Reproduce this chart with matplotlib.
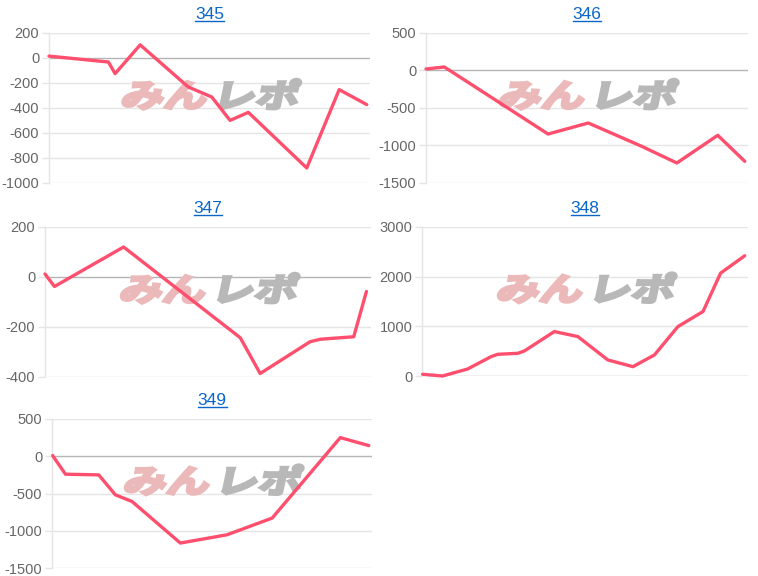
import matplotlib.pyplot as plt
from matplotlib.font_manager import FontProperties
from matplotlib.patches import PathPatch
from matplotlib.textpath import TextPath
from matplotlib.transforms import Affine2D, IdentityTransform

plt.rcParams["font.family"] = ["Liberation Sans", "DejaVu Sans"]

# x positions are in percent of the period shown, y values are the balance
x_345 = [0, 18.5, 20.6, 28.4, 43.4, 50.7, 56.4, 62.1, 80.3, 90.4, 99]
y_345 = [15, -32, -125, 105, -232, -312, -499, -435, -880, -253, -373]

x_346 = [0, 5.7, 37.9, 50.4, 67.0, 77.9, 90.6, 99]
y_346 = [20, 47, -847, -700, -1011, -1233, -864, -1211]

x_347 = [0, 2.9, 24.1, 59.9, 66.0, 81.3, 84.4, 94.7, 98.6]
y_347 = [12, -38, 120, -243, -386, -259, -249, -239, -58]

x_348 = [0.2, 6.3, 14.0, 21.2, 23.2, 29.4, 31.4, 40.6, 47.8, 57.0, 64.7, 71.3, 78.5, 86.2, 91.6, 99]
y_348 = [34, 0, 141, 390, 437, 457, 504, 895, 794, 323, 188, 424, 995, 1298, 2072, 2421]

x_349 = [0.2, 4.2, 14.6, 19.8, 25.0, 40.1, 54.7, 68.8, 90.1, 99]
y_349 = [9, -241, -250, -518, -607, -1165, -1054, -830, 250, 143]

titles = ["345", "346", "347", "348", "349"]
xs = [x_345, x_346, x_347, x_348, x_349]
ys = [y_345, y_346, y_347, y_348, y_349]
yticks = [
    [-1000, -800, -600, -400, -200, 0, 200],
    [-1500, -1000, -500, 0, 500],
    [-400, -200, 0, 200],
    [0, 1000, 2000, 3000],
    [-1500, -1000, -500, 0, 500],
]

# axes boxes in pixels: left, right, top, bottom
boxes = [
    (49, 370, 33, 183),
    (426, 748, 33, 183),
    (45, 371, 227, 377),
    (422, 748, 227, 376),
    (52, 372, 419, 568),
]

W, H = 758, 576
fig = plt.figure(figsize=(W / 100, H / 100), dpi=100)

line_color = "#ff4f6e"
grid_color = "#e5e5e5"
label_color = "#666666"
link_color = "#0b66c9"


def watermark(ax):
    fp = FontProperties(family="Noto Sans CJK JP", weight="bold")
    cx, cy = ax.transAxes.transform((0.5, 0.6))
    parts = [("みん", "#ebb9b9", -90), ("レポ", "#b8b8b8", 2)]
    for text, color, dx in parts:
        path = TextPath((0, 0), text, size=40, prop=fp)
        tr = Affine2D().scale(1.08, 0.8).skew_deg(12, 0).translate(cx + dx, cy - 14)
        patch = PathPatch(path, transform=tr + IdentityTransform(), facecolor=color,
                          edgecolor=color, lw=2.2, zorder=1, clip_on=False)
        ax.add_patch(patch)


for title, x, y, ticks, (l, r, t, b) in zip(titles, xs, ys, yticks, boxes):
    ax = fig.add_axes([l / W, 1 - b / H, (r - l) / W, (b - t) / H])
    ax.set_xlim(0, 100)
    ax.set_ylim(ticks[0], ticks[-1])
    ax.set_yticks(ticks)
    ax.set_yticklabels([str(v) for v in ticks])
    ax.set_xticks([])
    for side in ["top", "right", "bottom"]:
        ax.spines[side].set_visible(False)
    ax.spines["left"].set_color(grid_color)
    ax.spines["left"].set_linewidth(1)
    ax.tick_params(axis="y", length=5, width=1, color=grid_color,
                   labelsize=10.5, labelcolor=label_color, pad=2)
    for v in ticks:
        ax.axhline(v, color="#b5b5b5" if v == 0 else grid_color, lw=1, zorder=0)
    watermark(ax)
    ax.plot(x, y, color=line_color, lw=2.4, solid_joinstyle="round",
            solid_capstyle="round", zorder=3, clip_on=False)
    ax.set_title(title, color=link_color, fontsize=12.5, pad=10)

fig.canvas.draw()
for ax in fig.axes:
    bb = ax.title.get_window_extent()
    y0 = bb.y0 + 1
    fig.add_artist(plt.Line2D([bb.x0 / W, bb.x1 / W], [y0 / H, y0 / H],
                              color=link_color, lw=1))

fig.savefig("out.png", dpi=100)
